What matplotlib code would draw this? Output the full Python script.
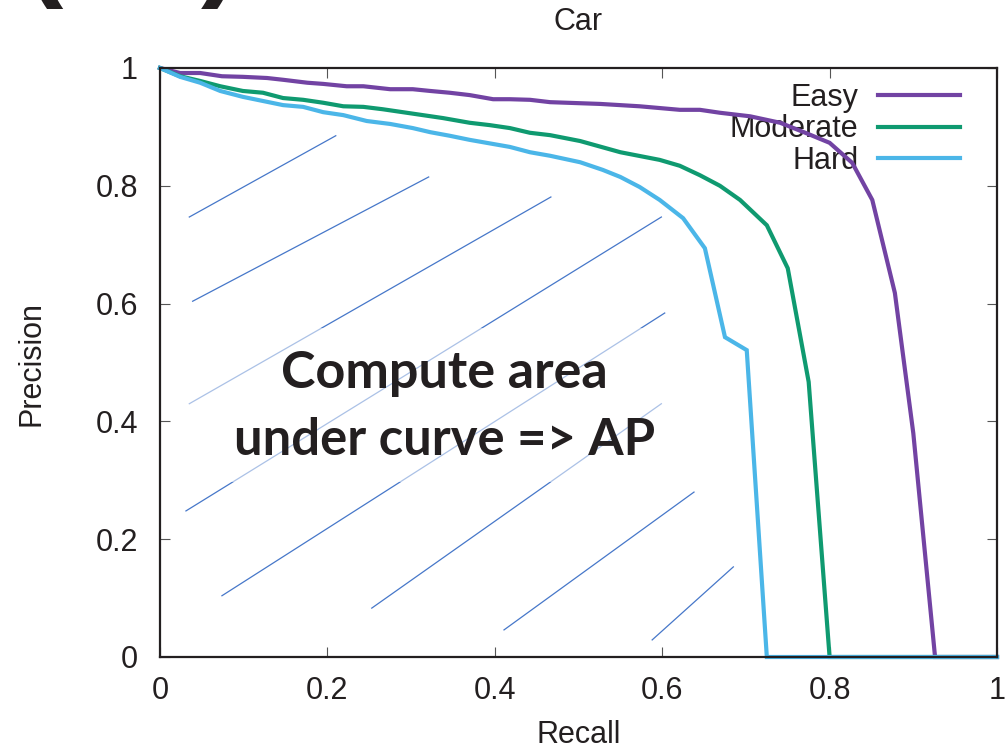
import matplotlib
matplotlib.use("Agg")
import matplotlib.pyplot as plt
from matplotlib.patches import Rectangle

# ---------------- data ----------------
easy_recall = [0.0, 0.024, 0.048, 0.074, 0.099, 0.128, 0.147, 0.176, 0.195, 0.223,
               0.243, 0.275, 0.302, 0.323, 0.346, 0.370, 0.398, 0.418, 0.442, 0.466,
               0.526, 0.573, 0.621, 0.645, 0.669, 0.705, 0.741, 0.771, 0.800, 0.827,
               0.851, 0.878, 0.900, 0.926, 1.0]
easy_precision = [1.0, 0.9915, 0.9915, 0.986, 0.985, 0.983, 0.980, 0.975, 0.973, 0.969,
                  0.969, 0.964, 0.964, 0.961, 0.958, 0.954, 0.947, 0.947, 0.946, 0.942,
                  0.939, 0.935, 0.929, 0.929, 0.924, 0.918, 0.907, 0.890, 0.873, 0.839,
                  0.776, 0.618, 0.380, 0.0, 0.0]

moderate_recall = [0.0, 0.024, 0.048, 0.072, 0.099, 0.123, 0.147, 0.171, 0.195, 0.219,
                   0.243, 0.266, 0.290, 0.314, 0.338, 0.370, 0.394, 0.418, 0.442, 0.466,
                   0.502, 0.550, 0.597, 0.621, 0.645, 0.669, 0.693, 0.725, 0.750, 0.775,
                   0.800, 1.0]
moderate_precision = [1.0, 0.986, 0.978, 0.969, 0.961, 0.958, 0.949, 0.946, 0.941, 0.935,
                      0.934, 0.930, 0.925, 0.920, 0.915, 0.907, 0.903, 0.898, 0.890, 0.886,
                      0.876, 0.857, 0.844, 0.834, 0.818, 0.800, 0.776, 0.733, 0.660, 0.467,
                      0.0, 0.0]

hard_recall = [0.0, 0.024, 0.048, 0.072, 0.099, 0.123, 0.147, 0.171, 0.195, 0.219,
               0.247, 0.275, 0.302, 0.323, 0.346, 0.370, 0.398, 0.418, 0.442, 0.466,
               0.502, 0.529, 0.550, 0.573, 0.597, 0.625, 0.651, 0.675, 0.701, 0.725, 1.0]
hard_precision = [1.0, 0.985, 0.975, 0.961, 0.951, 0.944, 0.937, 0.934, 0.925, 0.920,
                  0.910, 0.905, 0.898, 0.891, 0.885, 0.878, 0.871, 0.866, 0.857, 0.851,
                  0.840, 0.827, 0.815, 0.798, 0.776, 0.745, 0.694, 0.543, 0.521, 0.0, 0.0]

series_labels = ["Easy", "Moderate", "Hard"]

# hand-drawn hatch strokes (recall, precision) start / end
hatch_x0 = [0.035, 0.039, 0.035, 0.031, 0.074, 0.253, 0.411, 0.588]
hatch_y0 = [0.747, 0.604, 0.430, 0.248, 0.104, 0.083, 0.046, 0.029]
hatch_x1 = [0.210, 0.321, 0.467, 0.599, 0.603, 0.599, 0.638, 0.685]
hatch_y1 = [0.885, 0.815, 0.781, 0.747, 0.584, 0.430, 0.280, 0.153]

x_ticks = [0, 0.2, 0.4, 0.6, 0.8, 1]
x_tick_labels = ["0", "0.2", "0.4", "0.6", "0.8", "1"]
y_ticks = [0, 0.2, 0.4, 0.6, 0.8, 1]
y_tick_labels = ["0", "0.2", "0.4", "0.6", "0.8", "1"]

title = "Car"
xlabel = "Recall"
ylabel = "Precision"
annotation_lines = ["Compute area", "under curve => AP"]
panel_tag = "( b )"

# ---------------- style ----------------
W, H = 1008, 748
colors = ["#7243a3", "#0f9a70", "#4bb6e8"]
hatch_color = "#4677c9"
txt_font = "Liberation Sans"
ink = "#231f20"
fs = 22

fig = plt.figure(figsize=(W / 100, H / 100), dpi=100)
left, right, top, bottom = 160, 997, 68, 657
ax = fig.add_axes([left / W, 1 - bottom / H, (right - left) / W, (bottom - top) / H])
ax.set_xlim(0, 1)
ax.set_ylim(0, 1)

for x0, y0, x1, y1 in zip(hatch_x0, hatch_y0, hatch_x1, hatch_y1):
    ax.plot([x0, x1], [y0, y1], color=hatch_color, lw=0.9, zorder=2)

# faint veil behind the annotation text
ax.add_patch(Rectangle((0.024, 0.297), 0.585, 0.262, facecolor="white",
                       edgecolor="none", alpha=0.55, zorder=2.5))

handles = []
for xs, ys, c, lab in zip([easy_recall, moderate_recall, hard_recall],
                          [easy_precision, moderate_precision, hard_precision],
                          colors, series_labels):
    ln, = ax.plot(xs, ys, color=c, lw=3.0, label=lab, zorder=4, clip_on=False,
                  solid_joinstyle="miter")
    handles.append(ln)

leg = ax.legend(handles=handles, loc="upper right", bbox_to_anchor=(0.956, 0.975),
                markerfirst=False, frameon=False, borderpad=0, borderaxespad=0,
                handlelength=2.68, handletextpad=0.65, labelspacing=0.05,
                prop={"family": txt_font, "size": fs})
for t in leg.get_texts():
    t.set_color(ink)
leg.set_zorder(3)

for s in ax.spines.values():
    s.set_linewidth(1.6)
    s.set_color(ink)
    s.set_zorder(5)

ax.set_xticks(x_ticks)
ax.set_xticklabels(x_tick_labels)
ax.set_yticks(y_ticks)
ax.set_yticklabels(y_tick_labels)
ax.tick_params(direction="in", length=7, width=0.8, color="#555555",
               top=True, right=True, labelsize=fs, labelcolor=ink)
ax.tick_params(axis="x", pad=14)
ax.tick_params(axis="y", pad=16)
for lbl in ax.get_xticklabels() + ax.get_yticklabels():
    lbl.set_fontfamily(txt_font)

fig.text((left + right) / 2 / W, 1 - 22 / H, title, ha="center", va="center",
         fontsize=fs, family=txt_font, color=ink)
fig.text((left + right) / 2 / W, 1 - 735 / H, xlabel, ha="center", va="center",
         fontsize=fs, family=txt_font, color=ink)
fig.text(31 / W, 1 - 363 / H, ylabel, ha="center", va="center", rotation=90,
         fontsize=fs, family=txt_font, color=ink)

# annotation
fig.text(444 / W, 1 - 388 / H, annotation_lines[0], ha="center", va="baseline",
         fontsize=37.5, family="Lato", fontweight="bold", color=ink, zorder=6)
fig.text(445 / W, 1 - 455 / H, annotation_lines[1], ha="center", va="baseline",
         fontsize=36.5, family="Lato", fontweight="bold", color=ink, zorder=6)

# cut-off panel tag at the top-left corner (cropped in the source too)
fig.text(24 / W, 1 - (-16) / H, panel_tag, ha="left", va="baseline",
         fontsize=85, family="Liberation Sans", fontweight="bold", color=ink)

fig.savefig("out.png", dpi=100)
